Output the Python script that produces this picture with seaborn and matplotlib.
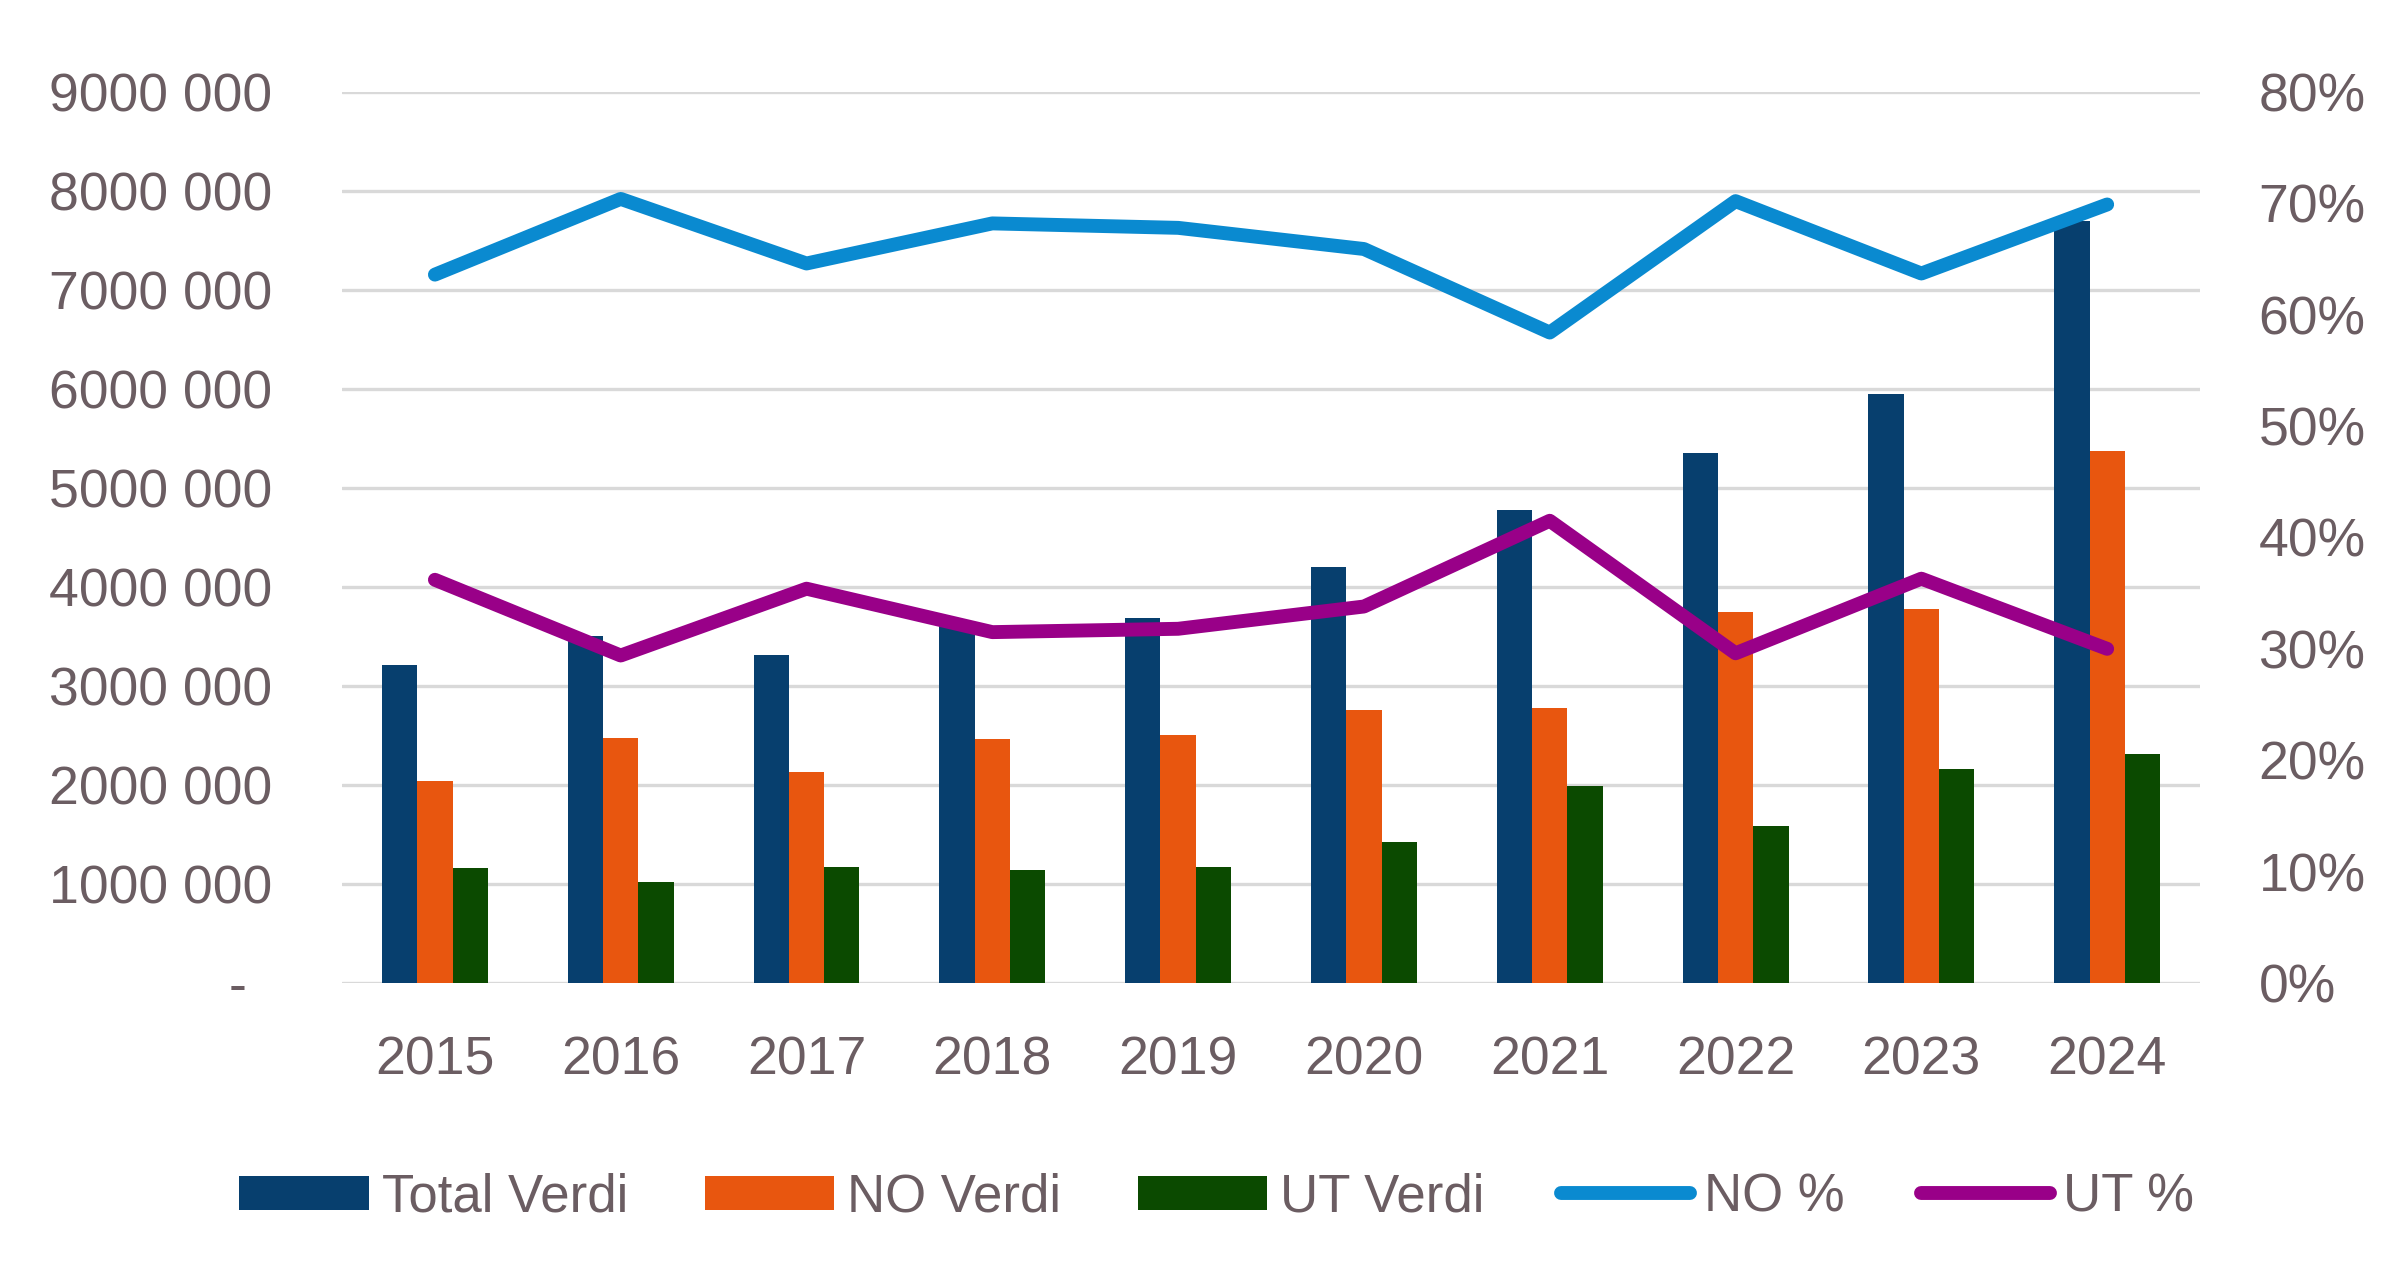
import numpy as np
import pandas as pd
import matplotlib
matplotlib.use("Agg")
import matplotlib.pyplot as plt
from matplotlib.patches import Patch
from matplotlib.lines import Line2D
from matplotlib.ticker import FuncFormatter, FixedLocator
import seaborn as sns

years = ["2015", "2016", "2017", "2018", "2019", "2020", "2021", "2022", "2023", "2024"]
total_verdi = [3215000, 3500000, 3310000, 3630000, 3690000, 4200000, 4780000, 5350000, 5950000, 7700000]
no_verdi = [2040000, 2470000, 2130000, 2460000, 2500000, 2760000, 2780000, 3750000, 3780000, 5370000]
ut_verdi = [1160000, 1020000, 1170000, 1140000, 1170000, 1420000, 1990000, 1590000, 2160000, 2310000]
no_pct = [0.636, 0.704, 0.646, 0.682, 0.678, 0.659, 0.584, 0.702, 0.637, 0.699]
ut_pct = [0.362, 0.294, 0.354, 0.315, 0.318, 0.338, 0.415, 0.296, 0.363, 0.300]

bar_series = ["Total Verdi", "NO Verdi", "UT Verdi"]
bar_colors = ["#073F6E", "#E8560F", "#0B4A00"]
line_series = ["NO %", "UT %"]
line_colors = ["#0A8AD0", "#990088"]
text_color = "#6B5D62"
grid_color = "#D9D9D9"

sns.set_theme(style="white")
plt.rcParams["font.family"] = ["Liberation Sans", "DejaVu Sans"]

df = pd.DataFrame({
    "year": years * 3,
    "value": total_verdi + no_verdi + ut_verdi,
    "series": [s for s in bar_series for _ in years],
})

fig = plt.figure(figsize=(24, 12.67), dpi=100)
ax = fig.add_axes([0.1425, 0.2242, 0.9167 - 0.1425, 0.9274 - 0.2242])

sns.barplot(data=df, x="year", y="value", hue="series", hue_order=bar_series,
            palette=bar_colors, width=0.57, gap=0, saturation=1, ax=ax,
            legend=False, linewidth=0, errorbar=None)

ax.set_xlim(-0.5, len(years) - 0.5)
ax.set_ylim(0, 9000000)
ax.yaxis.set_major_locator(FixedLocator(np.arange(0, 9000001, 1000000)))

def fmt_left(v, pos):
    v = int(round(v))
    if v == 0:
        return "- \u2009"
    return f"{v // 1000} {v % 1000:03d}"

ax.yaxis.set_major_formatter(FuncFormatter(fmt_left))
ax.set_axisbelow(True)
ax.grid(axis="y", color=grid_color, linewidth=2.4)
ax.grid(axis="x", visible=False)
for s in ax.spines.values():
    s.set_visible(False)
ax.set_xlabel("")
ax.set_ylabel("")
ax.tick_params(axis="y", length=0, pad=50, labelsize=38.5, labelcolor=text_color)
ax.tick_params(axis="x", length=0, pad=38, labelsize=38.5, labelcolor=text_color)

ax2 = ax.twinx()
x_pos = np.arange(len(years))
ldf = pd.DataFrame({
    "x": np.concatenate([x_pos, x_pos]),
    "pct": no_pct + ut_pct,
    "series": [s for s in line_series for _ in years],
})
sns.lineplot(data=ldf, x="x", y="pct", hue="series", hue_order=line_series,
             palette=line_colors, linewidth=10, ax=ax2, legend=False,
             solid_capstyle="round", solid_joinstyle="round")
ax2.set_ylim(0, 0.8)
ax2.set_xlim(-0.5, len(years) - 0.5)
ax2.yaxis.set_major_locator(FixedLocator(np.arange(0, 0.81, 0.1)))
ax2.yaxis.set_major_formatter(FuncFormatter(lambda v, p: f"{int(round(v * 100))}%"))
ax2.grid(False)
for s in ax2.spines.values():
    s.set_visible(False)
ax2.set_ylabel("")
ax2.set_xlabel("")
ax2.tick_params(axis="y", length=0, pad=42, labelsize=38.5, labelcolor=text_color)

handles = [Patch(facecolor=c, edgecolor="none") for c in bar_colors] + \
          [Line2D([0], [0], color=c, linewidth=10, solid_capstyle="round") for c in line_colors]
labels = bar_series + line_series
leg = fig.legend(handles, labels, loc="center", bbox_to_anchor=(0.507, 0.055), ncol=5,
                 frameon=False, fontsize=38, handlelength=2.45, handleheight=0.62,
                 handletextpad=0.25, columnspacing=1.45)
for t in leg.get_texts():
    t.set_color(text_color)

fig.savefig("out.png", dpi=100, facecolor="white")
